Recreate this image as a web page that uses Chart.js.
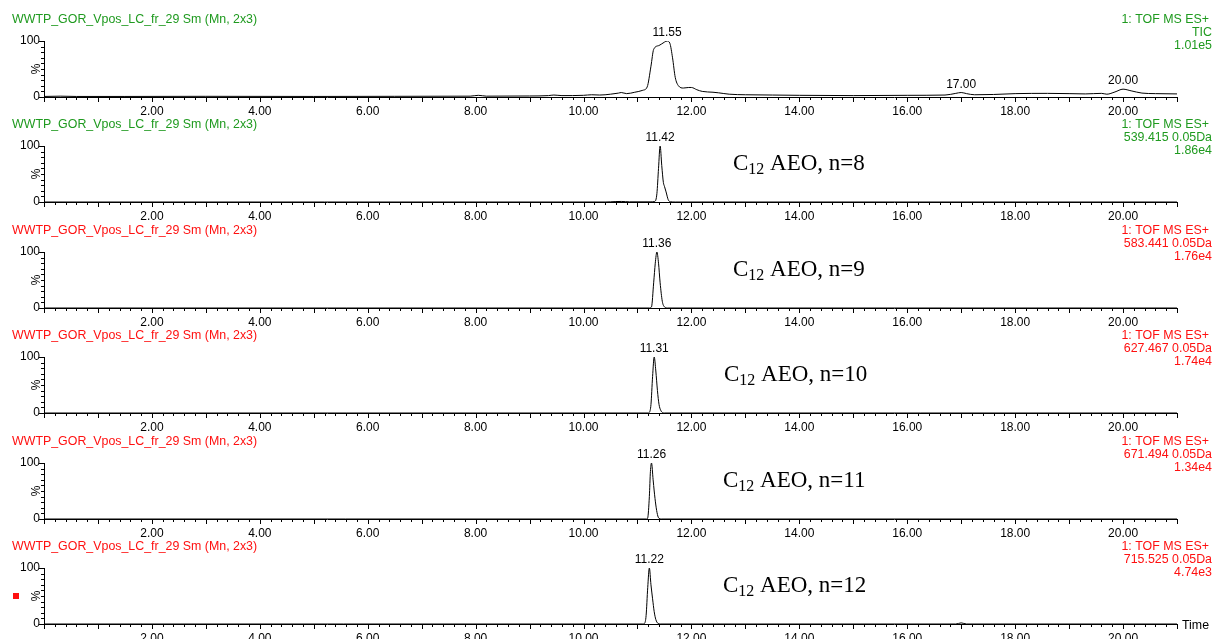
<!DOCTYPE html>
<html>
<head>
<meta charset="utf-8">
<title>WWTP_GOR_Vpos_LC_fr_29 chromatograms</title>
<script src="https://cdn.jsdelivr.net/npm/chart.js@4.4.1/dist/chart.umd.min.js"></script>
<style>
  body { margin: 0; background: #fff; }
  #wrap { position: relative; width: 1216px; height: 639px; overflow: hidden; }
  #wrap canvas { position: absolute; left: 0; }
</style>
</head>
<body>
<div id="wrap"></div>
<script>
// axis ranges and tick labels
const timeMin = 0;
const timeMax = 21;
const xTickLabels = [2, 4, 6, 8, 10, 12, 14, 16, 18, 20];
const yTickLabels = [0, 100];

// TIC trace (time in min, intensity in %)
const ticTimes = [0, 0.3, 0.6, 1.5, 3.0, 5.0, 6.5, 7.9, 8.05, 8.2, 9.0, 9.35, 9.45, 9.6, 10.0, 10.15, 10.3, 10.5, 10.65, 10.7, 10.8,
  10.95, 11.1, 11.18, 11.25, 11.3, 11.4, 11.5, 11.55, 11.6, 11.65, 11.7, 11.76, 11.85, 11.95, 12.0, 12.1, 12.2, 12.4, 12.5,
  12.7, 13.0, 13.5, 14.0, 15.0, 16.0, 16.7, 16.9, 17.0, 17.1, 17.25, 17.6, 18.0, 18.6, 19.0, 19.3, 19.6, 19.7, 19.85, 20.0,
  20.15, 20.35, 20.6, 21.0];
const ticValues = [1.0, 1.5, 1.0, 1.0, 1.2, 1.0, 1.2, 1.5, 3.0, 1.5, 1.8, 2.5, 3.5, 2.5, 3.0, 4.0, 3.5, 5.0, 7.0, 8.0, 6.0,
  8.5, 12, 18, 55, 85, 92, 98, 100, 96, 70, 35, 20, 16, 17, 17, 13, 10, 8.5, 7.5,
  5, 4, 3.5, 3.0, 2.5, 3.0, 3.5, 6.5, 8, 6, 4, 4.5, 6, 6.5, 6, 5.5, 6.5, 5.0, 9, 14,
  11, 7, 6, 5.5];

// C12 AEO n=8 (m/z 539.415)
const n8Times = [0, 10.4, 10.6, 10.7, 10.85, 11.25, 11.32, 11.36, 11.39, 11.42, 11.45, 11.48, 11.5, 11.53, 11.57, 11.61, 11.7, 21];
const n8Values = [0, 0, 0.8, 1.0, 0.3, 0.3, 1, 15, 60, 100, 65, 35, 28, 18, 4, 0.5, 0, 0];

// C12 AEO n=9 (m/z 583.441)
const n9Times = [0, 11.22, 11.26, 11.3, 11.33, 11.36, 11.39, 11.42, 11.46, 11.5, 11.56, 21];
const n9Values = [0, 0, 2, 45, 80, 100, 80, 45, 12, 2, 0, 0];

// C12 AEO n=10 (m/z 627.467)
const n10Times = [0, 11.2, 11.22, 11.25, 11.28, 11.31, 11.34, 11.37, 11.4, 11.43, 11.47, 11.5, 21];
const n10Values = [0, 0, 1, 15, 65, 100, 75, 40, 15, 5, 0.5, 0, 0];

// C12 AEO n=11 (m/z 671.494)
const n11Times = [0, 11.17, 11.19, 11.22, 11.24, 11.26, 11.29, 11.31, 11.34, 11.37, 11.4, 11.44, 21];
const n11Values = [0, 0, 2, 40, 85, 100, 70, 50, 25, 8, 1, 0, 0];

// C12 AEO n=12 (m/z 715.525)
const n12Times = [0, 11.1, 11.13, 11.16, 11.19, 11.22, 11.25, 11.28, 11.31, 11.34, 11.38, 11.42, 16.9, 17.0, 17.1, 21];
const n12Values = [0, 0, 1, 15, 65, 100, 70, 45, 22, 8, 1, 0, 0, 2, 0, 0];

const GREEN = '#1f9a1f';
const RED = '#ff1010';
const titleText = 'WWTP_GOR_Vpos_LC_fr_29 Sm (Mn, 2x3)';

const panels = [
  { times: ticTimes, values: ticValues, color: GREEN, info: ['1: TOF MS ES+', 'TIC', '1.01e5'],
    peaks: [11.55, 17.00, 20.00], compound: null },
  { times: n8Times, values: n8Values, color: GREEN, info: ['1: TOF MS ES+', '539.415 0.05Da', '1.86e4'],
    peaks: [11.42], compound: { n: '8', x: 733 } },
  { times: n9Times, values: n9Values, color: RED, info: ['1: TOF MS ES+', '583.441 0.05Da', '1.76e4'],
    peaks: [11.36], compound: { n: '9', x: 733 } },
  { times: n10Times, values: n10Values, color: RED, info: ['1: TOF MS ES+', '627.467 0.05Da', '1.74e4'],
    peaks: [11.31], compound: { n: '10', x: 724 } },
  { times: n11Times, values: n11Values, color: RED, info: ['1: TOF MS ES+', '671.494 0.05Da', '1.34e4'],
    peaks: [11.26], compound: { n: '11', x: 723 } },
  { times: n12Times, values: n12Values, color: RED, info: ['1: TOF MS ES+', '715.525 0.05Da', '4.74e3'],
    peaks: [11.22], compound: { n: '12', x: 723 } }
];

const SANS = '"Liberation Sans", Arial, sans-serif';
const SERIF = '"Liberation Serif", "Times New Roman", serif';
Chart.defaults.font.family = SANS;
Chart.defaults.font.size = 12;
Chart.defaults.color = '#000';

// draws tick marks, header texts, peak labels and the compound label
const panelDecor = {
  id: 'panelDecor',
  afterDraw(chart, args, opts) {
    const p = panels[opts.index];
    const last = opts.index === panels.length - 1;
    const ctx = chart.ctx;
    const xs = chart.scales.x, ys = chart.scales.y;
    const area = chart.chartArea;
    ctx.save();

    // minor / major tick marks
    ctx.strokeStyle = '#000';
    ctx.lineWidth = 1;
    ctx.beginPath();
    for (let i = 0; i <= timeMax * 5; i++) {
      const px = Math.round(xs.getPixelForValue(i / 5)) + 0.5;
      const len = i % 5 === 0 ? 5 : 3;
      ctx.moveTo(px, area.bottom);
      ctx.lineTo(px, area.bottom + len);
    }
    for (let j = 0; j <= 10; j++) {
      const py = Math.round(ys.getPixelForValue(j * 10)) + 0.5;
      const len = j % 10 === 0 ? 5 : 3;
      ctx.moveTo(area.left, py);
      ctx.lineTo(area.left - len, py);
    }
    ctx.stroke();

    // "%" axis label
    ctx.font = '12px ' + SANS;
    ctx.fillStyle = '#000';
    ctx.textAlign = 'center';
    ctx.textBaseline = 'middle';
    ctx.save();
    ctx.translate(37, (area.top + area.bottom) / 2);
    ctx.rotate(-Math.PI / 2);
    ctx.fillText('%', 0, 0);
    ctx.restore();

    // header texts
    ctx.font = '12.4px ' + SANS;
    ctx.fillStyle = p.color;
    ctx.textAlign = 'left';
    ctx.fillText(titleText, 12, 20);
    ctx.textAlign = 'right';
    p.info.forEach((line, k) => {
      ctx.fillText(line, k === 0 ? 1209 : 1212, 20 + k * 13);
    });

    // peak labels
    ctx.font = '12px ' + SANS;
    ctx.fillStyle = '#000';
    ctx.textAlign = 'center';
    p.peaks.forEach(t => {
      let best = 0;
      p.times.forEach((tt, k) => {
        if (Math.abs(tt - t) < Math.abs(p.times[best] - t)) best = k;
      });
      const px = xs.getPixelForValue(t);
      const py = ys.getPixelForValue(p.values[best]);
      ctx.fillText(t.toFixed(2), px, py - 8);
    });

    // compound label C12 AEO, n=...
    if (p.compound) {
      const base = 65;
      let x = p.compound.x;
      ctx.textAlign = 'left';
      ctx.textBaseline = 'alphabetic';
      ctx.font = '23px ' + SERIF;
      ctx.fillText('C', x, base);
      x += ctx.measureText('C').width;
      ctx.font = '16px ' + SERIF;
      ctx.fillText('12', x, base + 4);
      x += ctx.measureText('12').width;
      ctx.font = '23px ' + SERIF;
      ctx.fillText(' AEO, n=' + p.compound.n, x, base);
    }

    if (last) {
      ctx.font = '12.4px ' + SANS;
      ctx.textAlign = 'left';
      ctx.textBaseline = 'middle';
      ctx.fillText('Time', 1182, area.bottom + 2);
      ctx.fillStyle = RED;
      ctx.fillRect(13, 66, 6, 6);
    }
    ctx.restore();
  }
};

const wrap = document.getElementById('wrap');
panels.forEach((p, idx) => {
  const canvas = document.createElement('canvas');
  canvas.width = 1216;
  canvas.height = 120;
  canvas.style.top = Math.round(idx * 105.4) + 'px';
  canvas.style.width = '1216px';
  canvas.style.height = '120px';
  wrap.appendChild(canvas);

  const points = p.times.map((t, k) => ({ x: t, y: p.values[k] }));

  new Chart(canvas.getContext('2d'), {
    type: 'line',
    data: {
      datasets: [{
        data: points,
        borderColor: '#000',
        borderWidth: 1,
        pointRadius: 0,
        fill: false,
        cubicInterpolationMode: 'monotone'
      }]
    },
    options: {
      responsive: false,
      animation: false,
      events: [],
      layout: { padding: { top: 41, right: 39, left: 0, bottom: 0 } },
      plugins: {
        legend: { display: false },
        tooltip: { enabled: false },
        panelDecor: { index: idx }
      },
      scales: {
        x: {
          type: 'linear',
          min: timeMin,
          max: timeMax,
          grid: { display: false, drawTicks: false },
          border: { display: true, color: '#000', width: 1 },
          ticks: {
            stepSize: 2,
            autoSkip: false,
            maxRotation: 0,
            padding: 7,
            color: '#000',
            callback: v => xTickLabels.includes(v) ? v.toFixed(2) : ''
          },
          afterFit: s => { s.height = 23; }
        },
        y: {
          min: 0,
          max: 100,
          grace: 0,
          grid: { display: false, drawTicks: false },
          border: { display: true, color: '#000', width: 1 },
          ticks: {
            stepSize: 100,
            padding: 4,
            color: '#000',
            callback: v => yTickLabels.includes(v) ? String(v) : ''
          },
          afterFit: s => { s.width = 44; }
        }
      }
    },
    plugins: [panelDecor]
  });
});
</script>
</body>
</html>
